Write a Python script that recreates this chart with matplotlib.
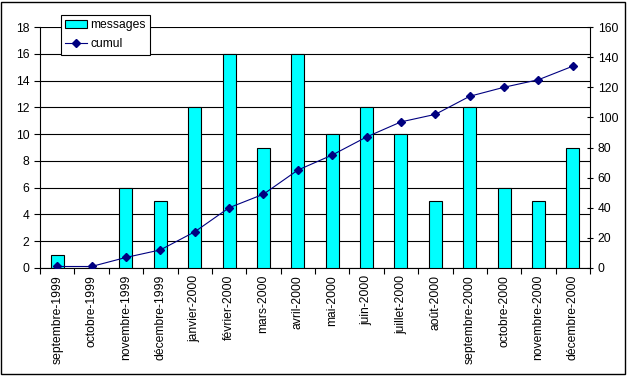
import matplotlib
matplotlib.use("Agg")
import matplotlib.pyplot as plt
from matplotlib.patches import Rectangle
import numpy as np

months = ["septembre-1999", "octobre-1999", "novembre-1999", "décembre-1999",
          "janvier-2000", "février-2000", "mars-2000", "avril-2000", "mai-2000",
          "juin-2000", "juillet-2000", "août-2000", "septembre-2000",
          "octobre-2000", "novembre-2000", "décembre-2000"]
messages = [1, 0, 6, 5, 12, 16, 9, 16, 10, 12, 10, 5, 12, 6, 5, 9]
cumul = [1, 1, 7, 12, 24, 40, 49, 65, 75, 87, 97, 102, 114, 120, 125, 134]
left_ticks = [0, 2, 4, 6, 8, 10, 12, 14, 16, 18]
right_ticks = [0, 20, 40, 60, 80, 100, 120, 140, 160]

plt.rcParams['font.family'] = ['Liberation Sans', 'DejaVu Sans']
plt.rcParams['font.size'] = 8.7

fig = plt.figure(figsize=(6.28, 3.76), dpi=100)
ax = fig.add_axes([40/628, 1-268/376, 550/628, 241/376])
x = np.arange(len(months))
bars = ax.bar(x, messages, width=0.38, color='#00FFFF', edgecolor='black', linewidth=0.8, zorder=3, label='messages')
ax.set_xlim(-0.5, len(months)-0.5)
ax.set_ylim(0, 18)
ax.set_yticks(left_ticks)
ax.yaxis.grid(True, color='black', linewidth=0.8, zorder=0)
ax.set_axisbelow(True)
ax.set_xticks(x)
ax.set_xticklabels(months, rotation=90)
ax.set_xticks(np.arange(-0.5, len(months)), minor=True)
ax.tick_params(axis='x', which='major', length=0, pad=5)
ax.tick_params(axis='x', which='minor', length=4, direction='out', width=0.8)
ax.tick_params(axis='y', length=4, width=0.8, direction='out')
for s in ['top', 'right']:
    ax.spines[s].set_visible(False)
ax.spines['left'].set_linewidth(0.8)
ax.spines['bottom'].set_linewidth(0.8)

ax2 = ax.twinx()
line, = ax2.plot(x, cumul, color='#000080', marker='D', markersize=4, linewidth=0.8, zorder=4, label='cumul')
ax2.set_ylim(0, 160)
ax2.set_yticks(right_ticks)
ax2.tick_params(axis='y', length=4, width=0.8, direction='inout')
for s in ['top', 'left', 'bottom']:
    ax2.spines[s].set_visible(False)
ax2.spines['right'].set_linewidth(0.8)

leg = fig.legend([bars, line], ['messages', 'cumul'], loc='upper left',
                 bbox_to_anchor=(61/628, 1-15/376), frameon=True, fancybox=False,
                 edgecolor='black', framealpha=1, borderpad=0.35, handlelength=1.8,
                 labelspacing=0.6, borderaxespad=0, handletextpad=0.3)
leg.get_frame().set_linewidth(0.8)

fig.patches.append(Rectangle((1/628, 2/376), 624/628, 372/376, transform=fig.transFigure,
                             fill=False, edgecolor='black', linewidth=1))
fig.savefig('out.png', dpi=100)
